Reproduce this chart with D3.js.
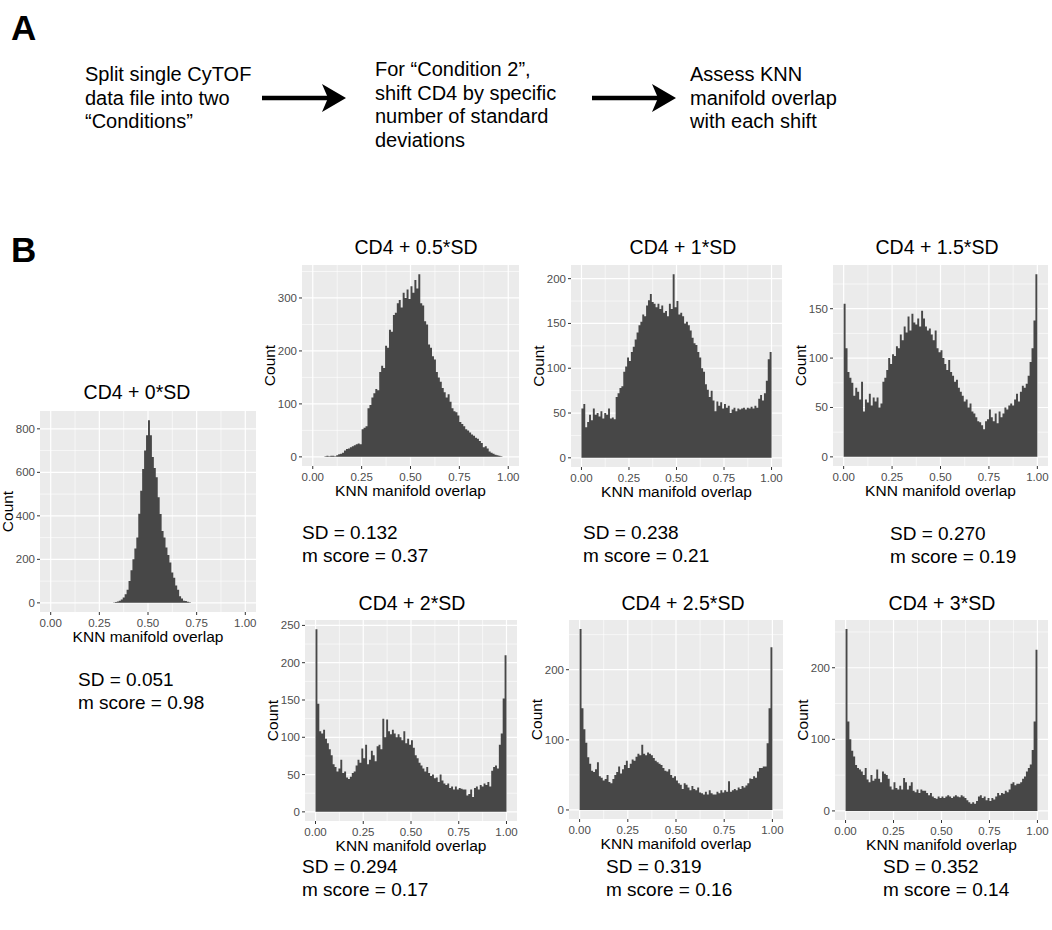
<!DOCTYPE html>
<html>
<head>
<meta charset="utf-8">
<script src="https://cdn.jsdelivr.net/npm/d3@7"></script>
<style>
  body { margin: 0; background: #fff; }
  svg { display: block; font-family: 'Liberation Sans', Arial, Helvetica, sans-serif; }
</style>
</head>
<body>
<svg width="1052" height="930"></svg>
<script>
// histogram bins, width 0.01 on [0, 1]
const binWidth = 0.01
const binStarts = d3.range(100).map(i => i * binWidth)

const countsSD0 = [
  0, 0, 0, 0, 0, 0, 0, 0, 0, 0,
  0, 0, 0, 0, 0, 0, 0, 0, 0, 0,
  0, 0, 0, 0, 0, 0, 0, 0, 0, 0,
  0, 0, 2, 4, 6, 10, 15, 25, 40, 60,
  100, 150, 200, 250, 300, 410, 515, 615, 700, 770,
  840, 770, 670, 620, 577, 485, 408, 330, 300, 254,
  220, 185, 140, 115, 80, 60, 30, 20, 10, 8,
  5, 3, 0, 0, 0, 0, 0, 0, 0, 0,
  0, 0, 0, 0, 0, 0, 0, 0, 0, 0,
  0, 0, 0, 0, 0, 0, 0, 0, 0, 0
]
const countsSD05 = [
  0, 0, 0, 0, 0, 0, 1, 2, 1, 2,
  2, 1, 3, 5, 6, 8, 12, 15, 16, 18,
  20, 22, 24, 25, 24, 52, 55, 58, 92, 98,
  112, 120, 128, 126, 160, 172, 168, 210, 206, 240,
  236, 268, 272, 290, 296, 282, 310, 300, 316, 298,
  322, 310, 334, 318, 345, 290, 286, 256, 250, 212,
  206, 190, 184, 160, 150, 142, 130, 122, 112, 118,
  104, 92, 86, 84, 78, 66, 62, 58, 52, 50,
  46, 42, 40, 36, 34, 30, 26, 18, 20, 16,
  10, 8, 6, 4, 3, 2, 1, 0, 0, 0
]
const countsSD1 = [
  55, 60, 34, 40, 48, 42, 55, 48, 50, 46,
  52, 44, 50, 48, 55, 44, 45, 43, 68, 72,
  78, 80, 96, 102, 112, 108, 118, 124, 132, 140,
  148, 152, 160, 158, 170, 176, 183, 174, 172, 168,
  172, 166, 170, 162, 164, 158, 172, 166, 205, 168,
  175, 160, 162, 158, 150, 152, 148, 142, 134, 128,
  126, 118, 112, 100, 96, 82, 76, 68, 75, 64,
  52, 63, 58, 62, 55, 60, 56, 58, 50, 54,
  56, 52, 55, 54, 55, 56, 54, 56, 55, 57,
  55, 58, 56, 66, 70, 64, 72, 86, 110, 118
]
const countsSD15 = [
  155, 110, 86, 80, 75, 62, 70, 66, 58, 76,
  46, 58, 55, 64, 52, 60, 56, 60, 50, 54,
  76, 80, 88, 100, 94, 104, 102, 112, 110, 124,
  118, 132, 126, 142, 128, 145, 136, 134, 140, 132,
  148, 140, 132, 128, 130, 124, 118, 128, 110, 106,
  108, 100, 94, 88, 98, 86, 82, 76, 78, 70,
  66, 62, 56, 58, 50, 54, 46, 44, 40, 36,
  35, 32, 28, 36, 38, 48, 40, 36, 44, 34,
  46, 40, 44, 50, 48, 52, 54, 52, 58, 64,
  56, 66, 72, 70, 74, 82, 96, 110, 138, 185
]
const countsSD2 = [
  245, 145, 108, 105, 110, 98, 92, 84, 76, 64,
  60, 54, 58, 70, 52, 54, 46, 44, 47, 52,
  54, 62, 70, 66, 85, 72, 90, 64, 70, 82,
  76, 68, 88, 90, 84, 125, 100, 124, 108, 104,
  110, 105, 100, 104, 100, 96, 108, 92, 98, 90,
  96, 86, 76, 72, 66, 62, 58, 54, 60, 52,
  48, 50, 45, 46, 40, 50, 42, 38, 36, 38,
  32, 34, 30, 34, 30, 32, 31, 30, 30, 22,
  24, 30, 20, 32, 34, 30, 36, 34, 38, 36,
  40, 34, 55, 60, 62, 58, 90, 105, 152, 210
]
const countsSD25 = [
  258, 145, 115, 96, 75, 66, 56, 54, 58, 68,
  48, 46, 42, 44, 50, 40, 38, 44, 50, 54,
  62, 52, 58, 64, 70, 60, 66, 72, 70, 76,
  80, 78, 93, 80, 78, 82, 80, 78, 74, 70,
  68, 66, 64, 60, 56, 55, 58, 50, 46, 48,
  42, 38, 36, 30, 38, 36, 32, 28, 34, 30,
  28, 32, 25, 24, 22, 26, 22, 28, 24, 22,
  22, 26, 24, 28, 25, 28, 26, 41, 26, 28,
  30, 28, 32, 30, 34, 32, 35, 38, 45, 44,
  48, 46, 55, 60, 60, 62, 62, 95, 145, 232
]
const countsSD3 = [
  254, 125, 100, 84, 76, 64, 60, 58, 55, 50,
  60, 44, 40, 50, 42, 45, 58, 45, 40, 55,
  52, 50, 45, 34, 30, 40, 32, 30, 35, 30,
  46, 40, 30, 35, 40, 28, 26, 30, 25, 30,
  28, 28, 25, 22, 25, 20, 18, 17, 20, 18,
  20, 18, 20, 22, 20, 18, 20, 22, 20, 19,
  22, 20, 18, 15, 12, 10, 12, 10, 14, 20,
  22, 18, 20, 15, 18, 14, 18, 16, 20, 25,
  22, 25, 24, 28, 26, 30, 38, 40, 36, 38,
  38, 40, 45, 48, 55, 60, 65, 85, 125, 225
]

const panelTitles = ['CD4 + 0*SD', 'CD4 + 0.5*SD', 'CD4 + 1*SD', 'CD4 + 1.5*SD',
  'CD4 + 2*SD', 'CD4 + 2.5*SD', 'CD4 + 3*SD']
const sdValues = ['0.051', '0.132', '0.238', '0.270', '0.294', '0.319', '0.352']
const mScores = ['0.98', '0.37', '0.21', '0.19', '0.17', '0.16', '0.14']
const yTicks = [
  [0, 200, 400, 600, 800],
  [0, 100, 200, 300],
  [0, 50, 100, 150, 200],
  [0, 50, 100, 150],
  [0, 50, 100, 150, 200, 250],
  [0, 100, 200],
  [0, 100, 200]
]
const xTicks = [0, 0.25, 0.5, 0.75, 1]
const allCounts = [countsSD0, countsSD05, countsSD1, countsSD15, countsSD2, countsSD25, countsSD3]

const stepText = [
  ['Split single CyTOF', 'data file into two', '\u201cConditions\u201d'],
  ['For \u201cCondition 2\u201d,', 'shift CD4 by specific', 'number of standard', 'deviations'],
  ['Assess KNN', 'manifold overlap', 'with each shift']
]

// layout: plot panel boxes and label anchors (pixels)
const layout = [
  { l: 40, r: 256, t: 411, b: 612, tx: 137, ty: 399, sx: 78, sy: 686 },
  { l: 302, r: 519, t: 265, b: 466, tx: 416, ty: 254, sx: 302, sy: 539 },
  { l: 571, r: 782, t: 265, b: 467, tx: 683, ty: 254, sx: 583, sy: 539 },
  { l: 833, r: 1048, t: 265, b: 466, tx: 937, ty: 254, sx: 890, sy: 540 },
  { l: 305, r: 517, t: 620, b: 821, tx: 412, ty: 610, sx: 302, sy: 873 },
  { l: 569, r: 783, t: 620, b: 819, tx: 683, ty: 610, sx: 606, sy: 873 },
  { l: 835, r: 1048, t: 620, b: 820, tx: 942, ty: 610, sx: 883, sy: 873 }
]

const svg = d3.select('svg')
const barColor = '#474747'
const tickColor = '#4d4d4d'

// panel letters
svg.append('text').text('A').attr('x', 11).attr('y', 40)
  .style('font-size', '35px').style('font-weight', 'bold')
svg.append('text').text('B').attr('x', 11).attr('y', 262)
  .style('font-size', '35px').style('font-weight', 'bold')

// panel A text blocks
const stepX = [85, 375, 690]
const stepY = [81, 76, 81]
stepText.forEach((lines, i) => {
  const t = svg.append('text')
    .attr('x', stepX[i])
    .attr('y', stepY[i])
    .style('font-size', '20px')
  lines.forEach((s, j) => {
    t.append('tspan').attr('x', stepX[i]).attr('dy', j === 0 ? 0 : 23.5).text(s)
  })
})

// arrows
const arrows = [[262, 346], [592, 676]]
arrows.forEach(([x0, x1]) => {
  const y = 98
  svg.append('line')
    .attr('x1', x0).attr('x2', x1 - 16)
    .attr('y1', y).attr('y2', y)
    .attr('stroke', '#000').attr('stroke-width', 4.5)
  svg.append('path')
    .attr('d', `M${x1},${y} L${x1 - 24},${y - 14} L${x1 - 18},${y} L${x1 - 24},${y + 14} Z`)
    .attr('fill', '#000')
})

// histograms
allCounts.forEach((counts, p) => {
  const L = layout[p]
  const ymax = d3.max(counts)
  const x = d3.scaleLinear().domain([-0.055, 1.055]).range([L.l, L.r])
  const y = d3.scaleLinear().domain([-0.05 * ymax, 1.05 * ymax]).range([L.b, L.t])
  const g = svg.append('g')

  g.append('rect')
    .attr('x', L.l).attr('y', L.t)
    .attr('width', L.r - L.l).attr('height', L.b - L.t)
    .attr('fill', '#ebebeb')

  // minor grid
  const ySteps = yTicks[p][1] - yTicks[p][0]
  const yMinor = d3.range(-1, yTicks[p].length + 1).map(i => yTicks[p][0] + (i + 0.5) * ySteps)
    .filter(v => y(v) > L.t && y(v) < L.b)
  const xMinor = [0.125, 0.375, 0.625, 0.875]
  g.selectAll('.ymin').data(yMinor).enter().append('line')
    .attr('x1', L.l).attr('x2', L.r)
    .attr('y1', d => y(d)).attr('y2', d => y(d))
    .attr('stroke', '#fff').attr('stroke-width', 0.6)
  g.selectAll('.xmin').data(xMinor).enter().append('line')
    .attr('y1', L.t).attr('y2', L.b)
    .attr('x1', d => x(d)).attr('x2', d => x(d))
    .attr('stroke', '#fff').attr('stroke-width', 0.6)

  // major grid
  g.selectAll('.ymaj').data(yTicks[p]).enter().append('line')
    .attr('x1', L.l).attr('x2', L.r)
    .attr('y1', d => y(d)).attr('y2', d => y(d))
    .attr('stroke', '#fff').attr('stroke-width', 1.2)
  g.selectAll('.xmaj').data(xTicks).enter().append('line')
    .attr('y1', L.t).attr('y2', L.b)
    .attr('x1', d => x(d)).attr('x2', d => x(d))
    .attr('stroke', '#fff').attr('stroke-width', 1.2)

  // bars, drawn as one stepped outline so adjacent bins have no seams
  const bins = binStarts.map((b, i) => ({ b, c: counts[i] }))
  bins.push({ b: 1, c: counts[counts.length - 1] })
  const area = d3.area()
    .curve(d3.curveStepAfter)
    .x(d => x(d.b))
    .y0(y(0))
    .y1(d => y(d.c))
  g.append('path')
    .datum(bins)
    .attr('d', area)
    .attr('fill', barColor)

  // axes ticks
  g.selectAll('.yt').data(yTicks[p]).enter().append('line')
    .attr('x1', L.l - 3).attr('x2', L.l)
    .attr('y1', d => y(d)).attr('y2', d => y(d))
    .attr('stroke', '#333').attr('stroke-width', 1)
  g.selectAll('.ytl').data(yTicks[p]).enter().append('text')
    .attr('x', L.l - 5).attr('y', d => y(d) + 4)
    .attr('text-anchor', 'end')
    .attr('fill', tickColor)
    .style('font-size', '11.5px')
    .text(d => d)
  g.selectAll('.xt').data(xTicks).enter().append('line')
    .attr('x1', d => x(d)).attr('x2', d => x(d))
    .attr('y1', L.b).attr('y2', L.b + 3)
    .attr('stroke', '#333').attr('stroke-width', 1)
  g.selectAll('.xtl').data(xTicks).enter().append('text')
    .attr('x', d => x(d)).attr('y', L.b + 15)
    .attr('text-anchor', 'middle')
    .attr('fill', tickColor)
    .style('font-size', '11.5px')
    .text(d => d3.format('.2f')(d))

  // axis titles
  g.append('text')
    .attr('x', (L.l + L.r) / 2).attr('y', L.b + 30)
    .attr('text-anchor', 'middle')
    .style('font-size', '15.5px')
    .text('KNN manifold overlap')
  g.append('text')
    .attr('transform', `translate(${L.l - 27},${(L.t + L.b) / 2}) rotate(-90)`)
    .attr('text-anchor', 'middle')
    .style('font-size', '15.5px')
    .text('Count')

  // panel title
  svg.append('text')
    .attr('x', L.tx).attr('y', L.ty)
    .attr('text-anchor', 'middle')
    .style('font-size', '19.5px')
    .text(panelTitles[p])

  // SD and m score
  svg.append('text').attr('x', L.sx).attr('y', L.sy)
    .style('font-size', '19px')
    .text('SD = ' + sdValues[p])
  svg.append('text').attr('x', L.sx).attr('y', L.sy + 22.5)
    .style('font-size', '19px')
    .text('m score = ' + mScores[p])
})
</script>
</body>
</html>
